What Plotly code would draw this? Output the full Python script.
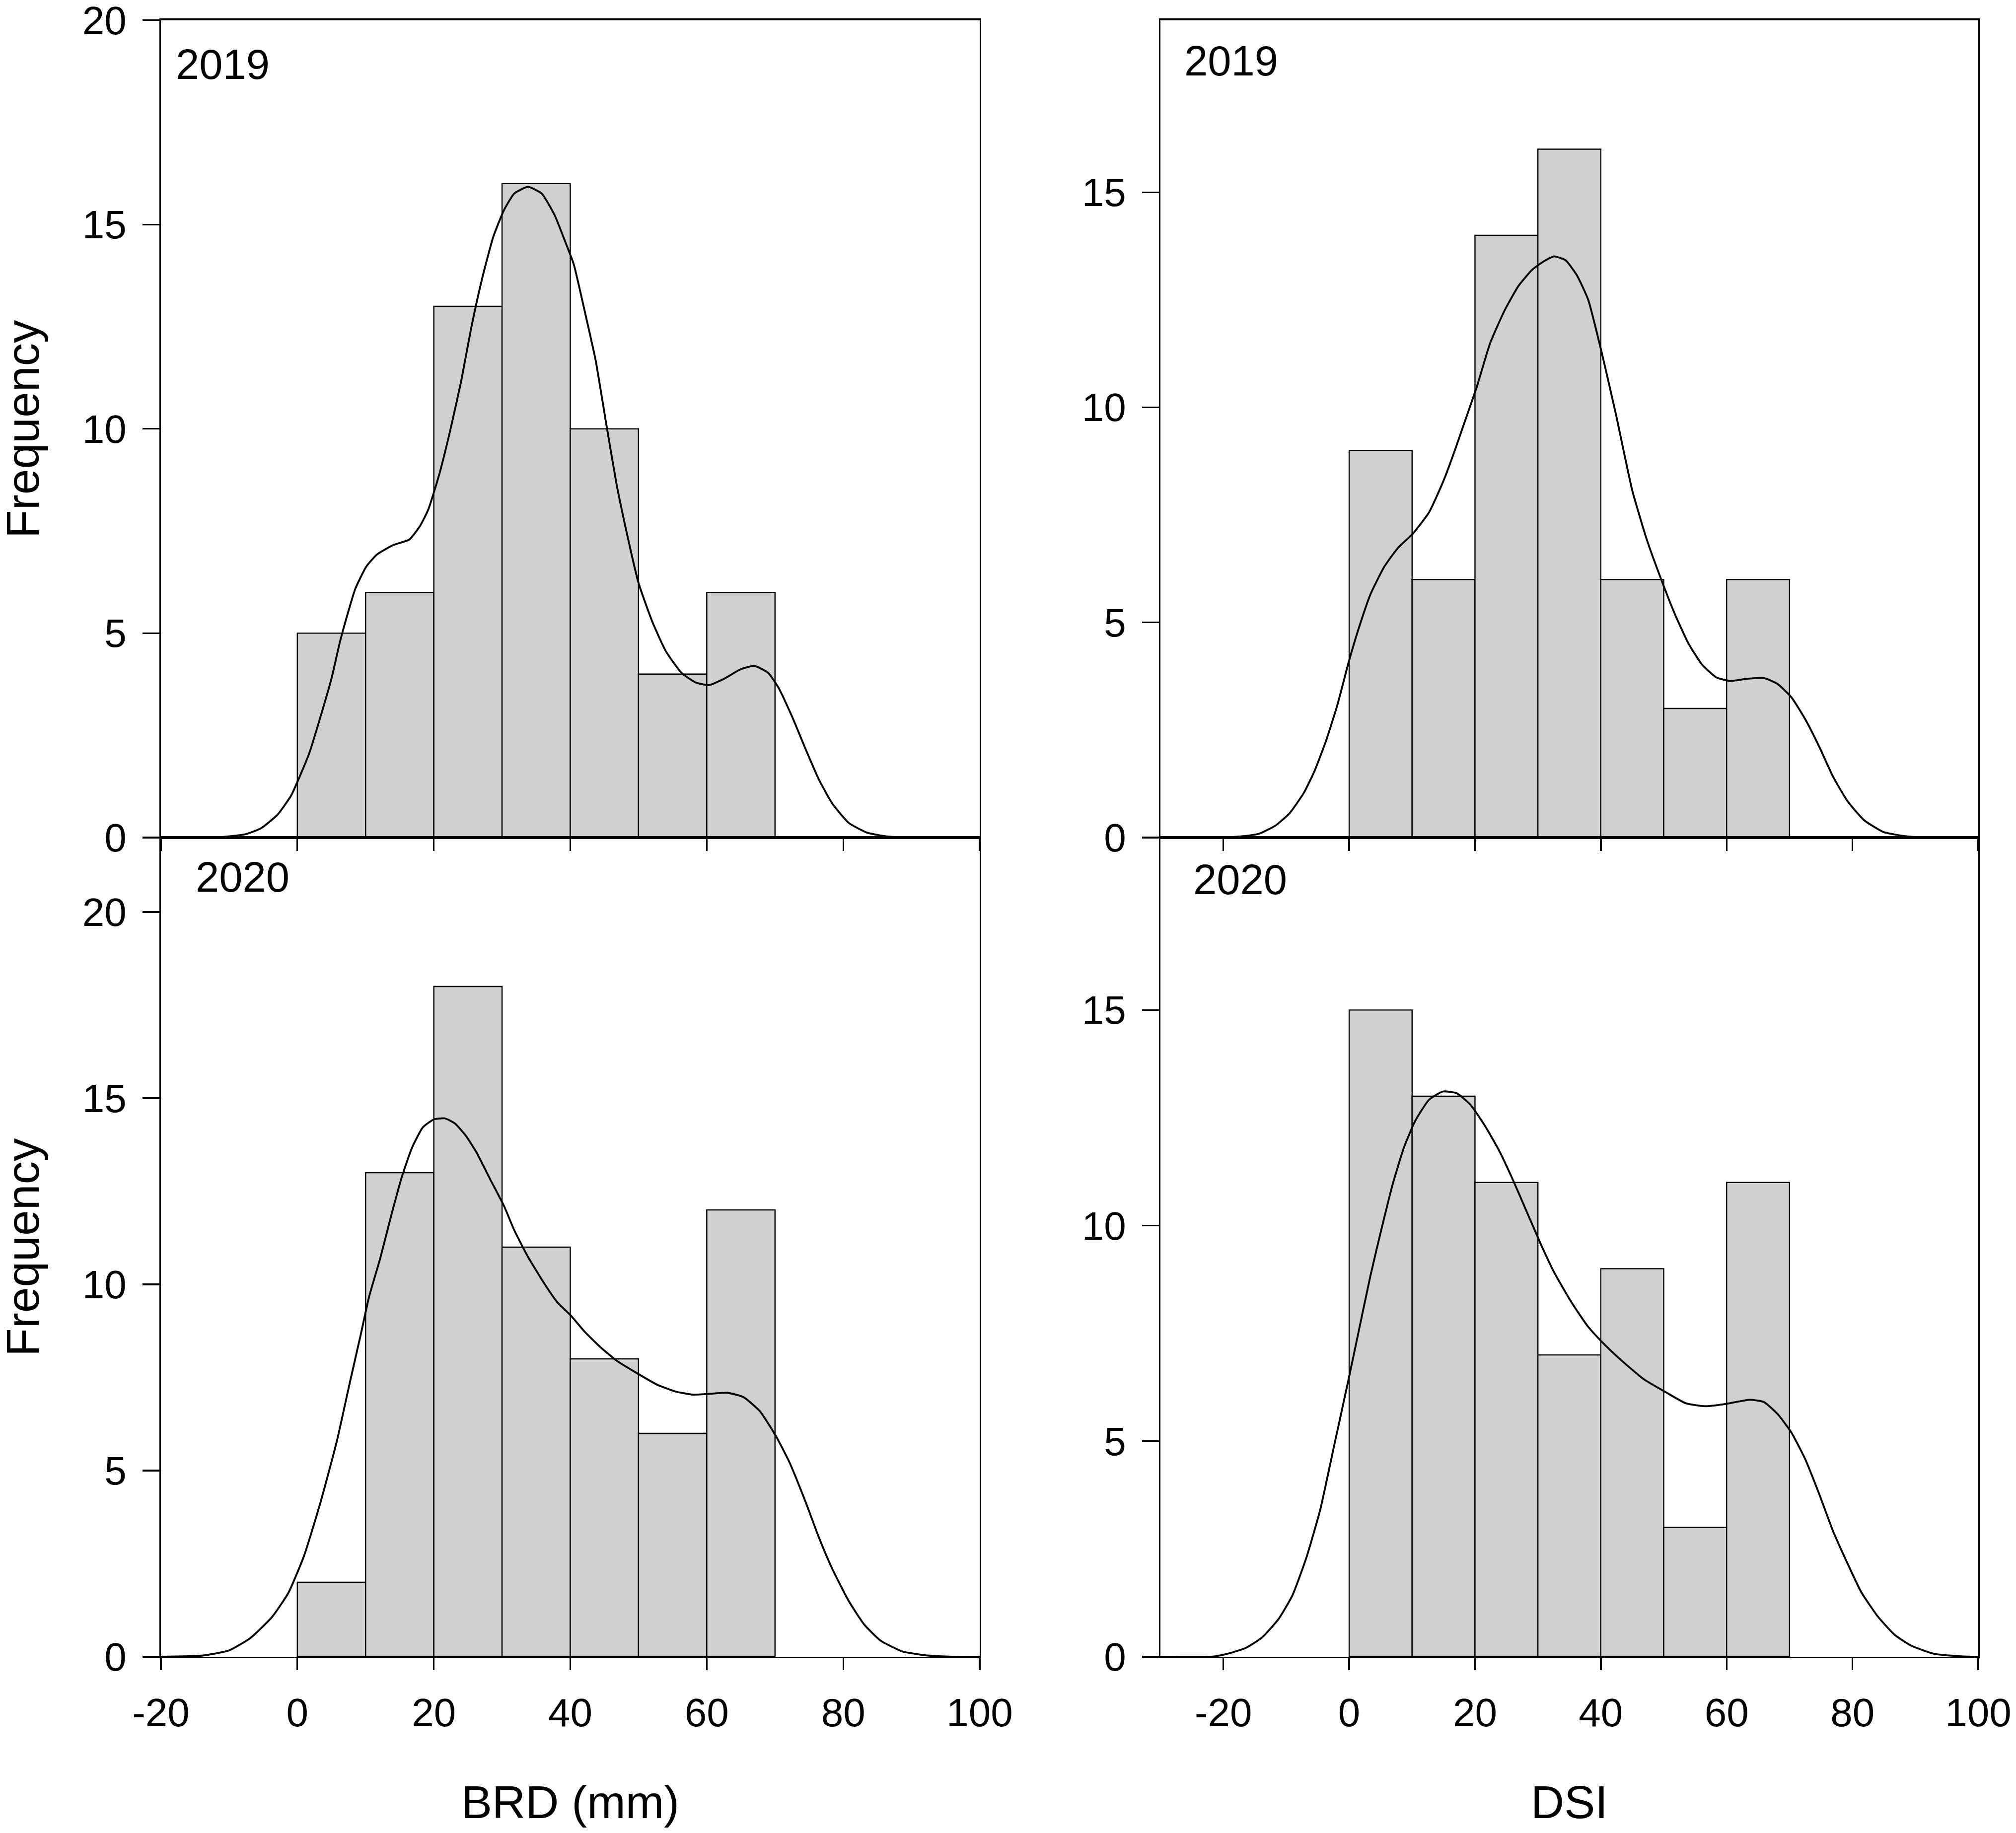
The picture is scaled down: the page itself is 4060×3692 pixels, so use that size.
import plotly.graph_objects as go

# ---------------- data ----------------
bin_centers = [5, 15, 25, 35, 45, 55, 65]

brd_2019_counts = [5, 6, 13, 16, 10, 4, 6]
brd_2020_counts = [2, 13, 18, 11, 8, 6, 12]
dsi_2019_counts = [9, 6, 14, 16, 6, 3, 6]
dsi_2020_counts = [15, 13, 11, 7, 9, 3, 11]

brd_2019_curve_x = [-20, -12, -7.6, -5.3, -2.9, -0.9, 0, 1.8, 3.4, 5.0, 6.2, 7.4, 8.5, 10.1, 11.7, 14.1, 16.4,
                    18.0, 19.2, 20.8, 22.4, 24.0, 25.5, 27.1, 28.7, 30.3, 31.8, 33.8, 35.8, 37.7, 39.3, 40.5,
                    42.1, 43.7, 45.3, 46.8, 48.4, 50.0, 52.0, 54.0, 56.3, 58.3, 60.3, 62.6, 65.0, 67.0, 69.0,
                    70.5, 72.5, 74.5, 76.4, 78.4, 80.8, 83.5, 86.3, 90, 100]
brd_2019_curve_y = [0, 0, 0.08, 0.23, 0.56, 1.03, 1.36, 2.09, 2.96, 3.89, 4.76, 5.49, 6.09, 6.63, 6.93, 7.16, 7.29,
                    7.63, 8.03, 8.89, 9.96, 11.16, 12.49, 13.69, 14.69, 15.36, 15.76, 15.92, 15.76, 15.23, 14.56,
                    14.03, 12.89, 11.69, 10.09, 8.63, 7.36, 6.23, 5.29, 4.56, 4.03, 3.80, 3.73, 3.89, 4.12, 4.20,
                    4.03, 3.67, 2.96, 2.16, 1.43, 0.83, 0.36, 0.12, 0.03, 0, 0]

brd_2020_curve_x = [-20, -14, -10, -6.9, -3.7, -1.3, 1.0, 3.4, 5.8, 7.7, 9.3, 10.5, 12.1, 13.7, 15.3, 16.8, 18.4,
                    20.0, 21.6, 23.1, 24.7, 26.3, 28.3, 30.3, 31.8, 33.8, 36.2, 38.1, 40.1, 42.1, 44.5, 46.8,
                    50.0, 52.8, 55.5, 57.9, 60.3, 63.0, 65.4, 67.8, 70.1, 72.1, 74.5, 76.4, 78.4, 80.8, 83.1,
                    85.5, 88.7, 92.6, 96, 100]
brd_2020_curve_y = [0, 0.03, 0.17, 0.50, 1.07, 1.72, 2.72, 4.15, 5.80, 7.37, 8.66, 9.66, 10.67, 11.81, 12.88, 13.67,
                    14.22, 14.43, 14.46, 14.32, 13.99, 13.53, 12.81, 12.10, 11.45, 10.74, 10.02, 9.52, 9.16, 8.73,
                    8.30, 7.95, 7.59, 7.30, 7.12, 7.04, 7.06, 7.09, 6.97, 6.59, 5.94, 5.23, 4.15, 3.22, 2.36, 1.50,
                    0.86, 0.43, 0.14, 0.03, 0, 0]

dsi_2019_curve_x = [-30, -20, -17.0, -14.3, -11.7, -9.5, -7.2, -5.5, -3.7, -1.9, 0, 1.6, 3.4, 5.6, 7.8, 10.1, 12.7,
                    14.9, 16.7, 18.5, 20.3, 22.4, 24.7, 26.9, 29.1, 30.9, 32.6, 34.4, 36.2, 38.0, 40.2, 42.4, 45.0,
                    47.3, 49.5, 51.7, 53.9, 56.1, 58.4, 60.6, 63.2, 65.9, 68.1, 70.3, 72.5, 74.7, 76.9, 79.2, 81.8,
                    84.9, 88.5, 92, 100]
dsi_2019_curve_y = [0, 0, 0.03, 0.09, 0.28, 0.56, 1.04, 1.55, 2.24, 3.07, 4.12, 4.90, 5.66, 6.30, 6.74, 7.06, 7.56,
                    8.26, 8.96, 9.72, 10.48, 11.49, 12.25, 12.82, 13.20, 13.39, 13.51, 13.42, 13.07, 12.50, 11.24,
                    9.84, 8.07, 6.93, 6.04, 5.22, 4.52, 4.02, 3.72, 3.64, 3.69, 3.71, 3.57, 3.26, 2.75, 2.12, 1.42,
                    0.85, 0.41, 0.13, 0.03, 0, 0]

dsi_2020_curve_x = [-30, -22, -19.6, -16.5, -13.9, -11.2, -9.0, -6.8, -4.6, -2.4, 0, 1.6, 3.4, 5.2, 6.9, 8.7, 10.5,
                    12.7, 14.9, 17.1, 19.3, 21.6, 23.8, 26.0, 28.2, 30.4, 32.6, 35.3, 37.9, 40.2, 43.3, 46.8, 50.4,
                    53.5, 56.6, 59.7, 63.7, 65.9, 68.1, 70.3, 72.5, 74.7, 76.9, 79.2, 81.4, 84.0, 86.7, 89.3, 92.9,
                    97.3, 100]
dsi_2020_curve_y = [0, 0, 0.06, 0.20, 0.44, 0.88, 1.43, 2.30, 3.41, 4.89, 6.50, 7.61, 8.85, 9.96, 10.95, 11.81,
                    12.43, 12.92, 13.11, 13.07, 12.80, 12.31, 11.75, 11.07, 10.33, 9.59, 8.91, 8.23, 7.67, 7.30,
                    6.87, 6.44, 6.13, 5.88, 5.81, 5.86, 5.96, 5.91, 5.63, 5.20, 4.58, 3.78, 2.92, 2.17, 1.50, 0.94,
                    0.51, 0.26, 0.07, 0.01, 0]

x_tickvals = [-20, 0, 20, 40, 60, 80, 100]
x_ticktext = ["-20", "0", "20", "40", "60", "80", "100"]
y_tickvals_20 = [0, 5, 10, 15, 20]
y_tickvals_15 = [0, 5, 10, 15]
year_labels = ["2019", "2020"]
x_titles = ["BRD (mm)", "DSI"]
y_title = "Frequency"

# ---------------- figure ----------------
W, H = 4060, 3692
FONT = "Liberation Sans, Arial, sans-serif"
BAR_FILL = "#d0d0d0"
LW = 3.3

fig = go.Figure()

panels = [
    ("", brd_2019_counts, brd_2019_curve_x, brd_2019_curve_y),
    ("2", dsi_2019_counts, dsi_2019_curve_x, dsi_2019_curve_y),
    ("3", brd_2020_counts, brd_2020_curve_x, brd_2020_curve_y),
    ("4", dsi_2020_counts, dsi_2020_curve_x, dsi_2020_curve_y),
]

for suf, counts, cx, cy in panels:
    xa, ya = "x" + suf, "y" + suf
    fig.add_trace(go.Bar(x=bin_centers, y=counts, width=10, xaxis=xa, yaxis=ya,
                         marker=dict(color=BAR_FILL, line=dict(color="black", width=2.4)),
                         showlegend=False, hoverinfo="skip"))
    fig.add_trace(go.Scatter(x=cx, y=cy, mode="lines", xaxis=xa, yaxis=ya,
                             line=dict(color="black", width=3.8, shape="spline", smoothing=0.5),
                             showlegend=False, hoverinfo="skip"))

left_dom = [324 / W, 1973 / W]
right_dom = [2337 / W, 3984 / W]
top_dom = [1 - 1687 / H, 1 - 40.6 / H]
bot_dom = [1 - 3337 / H, 1 - 1687 / H]

tickfont = dict(family=FONT, size=80, color="black")


def xaxis(dom, rng, anchor, labels):
    return dict(domain=dom, range=rng, anchor=anchor, tickmode="array", tickvals=x_tickvals,
                ticktext=x_ticktext,
                ticks="outside", ticklen=24, tickwidth=LW, tickcolor="black",
                showline=True, linewidth=LW, linecolor="black", mirror=True,
                showgrid=False, zeroline=False, showticklabels=labels, tickfont=tickfont,
                ticklabelstandoff=17, ticklabeloverflow="allow", automargin=False, fixedrange=True)


def yaxis(dom, rng, anchor, vals):
    return dict(domain=dom, range=rng, anchor=anchor, tickmode="array", tickvals=vals,
                ticktext=[str(v) for v in vals],
                ticks="outside", ticklen=34, tickwidth=LW, tickcolor="black",
                showline=True, linewidth=LW, linecolor="black", mirror=True,
                showgrid=False, zeroline=False, tickfont=tickfont,
                ticklabelstandoff=16, ticklabeloverflow="allow", automargin=False, fixedrange=True)


fig.update_layout(
    width=W, height=H, autosize=False,
    margin=dict(l=0, r=0, t=0, b=0),
    paper_bgcolor="white", plot_bgcolor="white",
    bargap=0,
    font=dict(family=FONT, color="black"),
    xaxis=xaxis(left_dom, [-20, 100], "y", False),
    yaxis=yaxis(top_dom, [0, 20], "x", y_tickvals_20),
    xaxis2=xaxis(right_dom, [-30, 100], "y2", False),
    yaxis2=yaxis(top_dom, [0, 19], "x2", y_tickvals_15),
    xaxis3=xaxis(left_dom, [-20, 100], "y3", True),
    yaxis3=yaxis(bot_dom, [0, 22], "x3", y_tickvals_20),
    xaxis4=xaxis(right_dom, [-30, 100], "y4", True),
    yaxis4=yaxis(bot_dom, [0, 19], "x4", y_tickvals_15),
)

# year labels inside the panels
year_pos = [("x", "y", 0.017, 0.946, year_labels[0]),
            ("x2", "y2", 0.028, 0.950, year_labels[0]),
            ("x3", "y3", 0.041, 0.952, year_labels[1]),
            ("x4", "y4", 0.039, 0.949, year_labels[1])]
for xa, ya, fx, fy, txt in year_pos:
    fig.add_annotation(text=txt, xref=xa + " domain", yref=ya + " domain", x=fx, y=fy,
                       xanchor="left", yanchor="middle", showarrow=False,
                       font=dict(family=FONT, size=85, color="black"))

# axis titles
for fy in [1 - 864 / H, 1 - 2512 / H]:
    fig.add_annotation(text=y_title, xref="paper", yref="paper", x=46 / W, y=fy,
                       xanchor="center", yanchor="middle", textangle=-90, showarrow=False,
                       font=dict(family=FONT, size=93, color="black"))
for fx, txt in [(1148 / W, x_titles[0]), (3160 / W, x_titles[1])]:
    fig.add_annotation(text=txt, xref="paper", yref="paper", x=fx, y=1 - 3630 / H,
                       xanchor="center", yanchor="middle", showarrow=False,
                       font=dict(family=FONT, size=93, color="black"))

fig.write_html("out.html", config={"displayModeBar": False, "staticPlot": True},
               post_script="document.body.style.margin='0px';")
